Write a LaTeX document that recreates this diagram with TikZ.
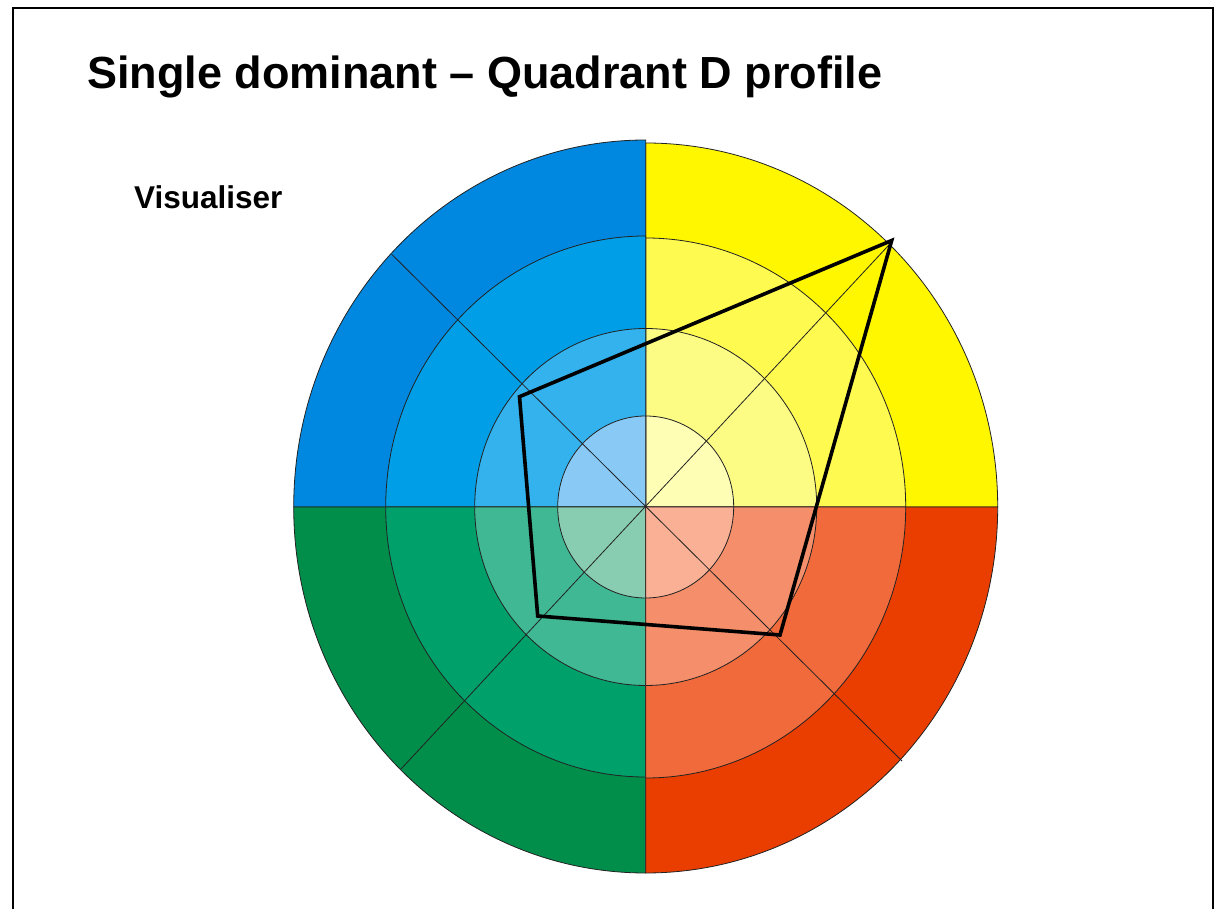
\documentclass[tikz,border=0pt]{standalone}
\usepackage{fontspec}
\setmainfont{Liberation Sans}
\usetikzlibrary{calc}

% quadrant colours, outer ring to centre
\definecolor{bluA}{RGB}{0,136,224}
\definecolor{bluB}{RGB}{0,158,230}
\definecolor{bluC}{RGB}{51,178,238}
\definecolor{bluD}{RGB}{136,202,245}
\definecolor{yelA}{RGB}{255,247,0}
\definecolor{yelB}{RGB}{255,250,80}
\definecolor{yelC}{RGB}{252,252,133}
\definecolor{yelD}{RGB}{254,254,181}
\definecolor{redA}{RGB}{234,61,0}
\definecolor{redB}{RGB}{240,106,60}
\definecolor{redC}{RGB}{245,142,106}
\definecolor{redD}{RGB}{249,176,149}
\definecolor{grnA}{RGB}{0,142,74}
\definecolor{grnB}{RGB}{0,160,107}
\definecolor{grnC}{RGB}{64,184,147}
\definecolor{grnD}{RGB}{136,205,178}
\definecolor{rule}{RGB}{34,34,34}

% one quarter-ring sector: colour, start angle, x radius, y radius
\newcommand\quartersector[4]{%
  \filldraw[sectorline, fill=#1] (ctr) -- ++(#2:#3 and #4)
    arc[start angle=#2, delta angle=90, x radius=#3, y radius=#4] -- cycle;}

\begin{document}
\begin{tikzpicture}[x=1pt, y=1pt,
  sectorline/.style={draw=rule, line width=0.8pt},
  spoke/.style={draw=rule, line width=0.8pt},
  frameline/.style={draw=black, line width=2pt},
  profile/.style={draw=black, line width=3.6pt},
  titletext/.style={anchor=base west, inner sep=0pt, font=\fontsize{45}{54}\selectfont\bfseries},
  labeltext/.style={anchor=base west, inner sep=0pt, font=\fontsize{31.5}{37}\selectfont\bfseries}]
  \useasboundingbox (0,0) rectangle (1215,908);

  % page frame
  \draw[frameline] (13,-5) -- (13,900) -- (1213,900) -- (1213,-5);

  \node[titletext] (title) at (87,819) {Single dominant – Quadrant D profile};
  \node[labeltext] (visual) at (134,699) {Visualiser};

  \coordinate (ctr) at (645.7,401);

  % upper right, yellow
  \quartersector{yelA}{0}{352}{364}
  \quartersector{yelB}{0}{260}{269}
  \quartersector{yelC}{0}{171}{178.5}
  \quartersector{yelD}{0}{88}{91}
  % upper left, blue
  \quartersector{bluA}{90}{352}{367}
  \quartersector{bluB}{90}{260}{271}
  \quartersector{bluC}{90}{171}{178.5}
  \quartersector{bluD}{90}{88}{91}
  % lower left, green
  \quartersector{grnA}{180}{352}{366}
  \quartersector{grnB}{180}{260}{270}
  \quartersector{grnC}{180}{171}{178.5}
  \quartersector{grnD}{180}{88}{91}
  % lower right, red
  \quartersector{redA}{270}{352}{366}
  \quartersector{redB}{270}{260}{271}
  \quartersector{redC}{270}{171}{178.5}
  \quartersector{redD}{270}{88}{91}

  % diagonal spokes
  \coordinate (ul) at (391.7,653.7);
  \coordinate (lr) at (902,147);
  \coordinate (ll) at (401,139);
  \coordinate (ur) at (891.7,666);
  \draw[spoke] (ul) -- (lr);
  \draw[spoke] (ll) -- (ur);

  % profile polygon
  \coordinate (pA) at (891.7,667.5);
  \coordinate (pB) at (519.5,511.3);
  \coordinate (pC) at (537.7,292);
  \coordinate (pD) at (780,273);
  \draw[profile] (pA) -- (pB) -- (pC) -- (pD) -- cycle;
\end{tikzpicture}
\end{document}
